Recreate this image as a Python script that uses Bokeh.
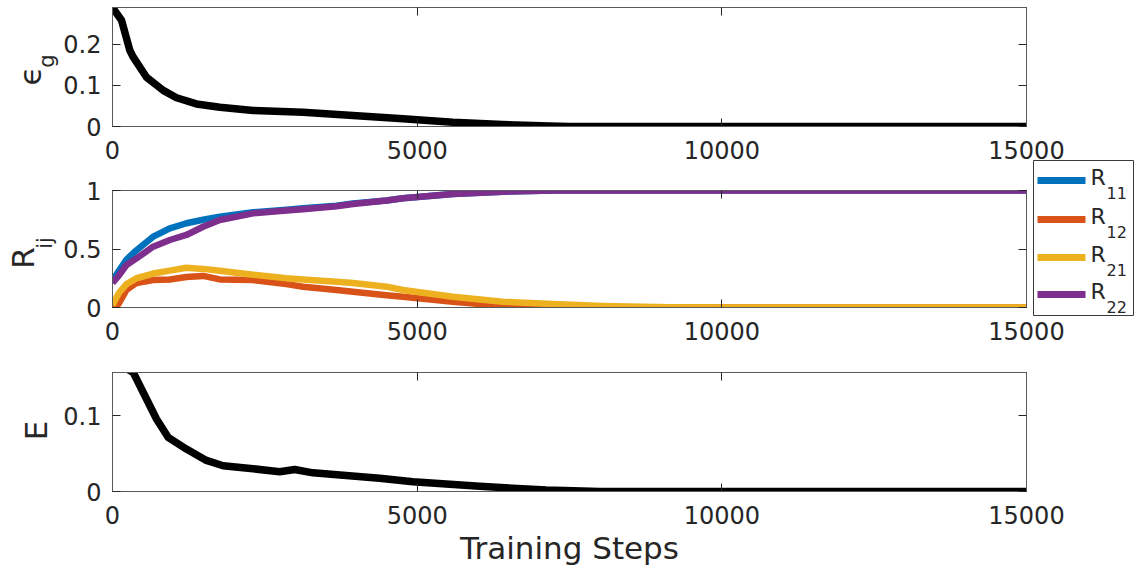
import math
from bokeh.plotting import figure
from bokeh.models import Range1d, LinearAxis, FixedTicker, NumeralTickFormatter
from bokeh.layouts import column, row
from bokeh.embed import file_html
from bokeh.resources import INLINE

# ---------------- data ----------------
eg_steps = [0, 148, 285, 341, 558, 832, 1050, 1378, 1762, 2307, 3126, 3946, 4766,
            5586, 6405, 7170, 7500, 10000, 15000]
eg_vals = [0.29, 0.259, 0.185, 0.169, 0.12, 0.088, 0.07, 0.055, 0.047, 0.039, 0.035,
           0.027, 0.019, 0.0105, 0.005, 0.001, 0.0, 0.0, 0.0]

r_steps = [0, 100, 230, 394, 667, 941, 1213, 1487, 1760, 2307, 2853, 3126, 3676,
           3946, 4497, 4766, 5586, 6405, 7225, 8046, 9140, 10000, 15000]
r11_vals = [0.23, 0.31, 0.41, 0.49, 0.605, 0.677, 0.72, 0.75, 0.776, 0.814, 0.835,
            0.848, 0.87, 0.89, 0.915, 0.933, 0.97, 0.99, 1.0, 1.0, 1.0, 1.0, 1.0]
r12_vals = [0.0, 0.03, 0.15, 0.21, 0.235, 0.24, 0.26, 0.27, 0.24, 0.235, 0.2,
            0.178, 0.15, 0.135, 0.105, 0.092, 0.05, 0.013, 0.005, 0.0, 0.0, 0.0, 0.0]
r21_vals = [0.02, 0.12, 0.2, 0.25, 0.29, 0.315, 0.34, 0.33, 0.315, 0.28, 0.25,
            0.24, 0.22, 0.21, 0.178, 0.15, 0.092, 0.05, 0.03, 0.013, 0.002, 0.0, 0.0]
r22_vals = [0.21, 0.27, 0.363, 0.42, 0.52, 0.577, 0.62, 0.69, 0.748, 0.805, 0.83,
            0.84, 0.865, 0.885, 0.915, 0.933, 0.97, 0.99, 1.0, 1.0, 1.0, 1.0, 1.0]

e_steps = [0, 256, 341, 558, 722, 913, 1213, 1541, 1815, 2307, 2744, 2990, 3290,
           3836, 4383, 4930, 5476, 6023, 6569, 7116, 8000, 15000]
e_vals = [0.2, 0.161, 0.157, 0.122, 0.0957, 0.0715, 0.056, 0.041, 0.034, 0.030,
          0.026, 0.029, 0.0246, 0.021, 0.0175, 0.013, 0.010, 0.007, 0.0043, 0.002,
          0.0, 0.0]

r_series = [r11_vals, r12_vals, r21_vals, r22_vals]
r_names = ["11", "12", "21", "22"]
r_colors = ["#0072BD", "#D95319", "#EDB120", "#7E2F8E"]

x_ticks = [0, 5000, 10000, 15000]
eg_ticks = [0, 0.1, 0.2]
r_ticks = [0, 0.5, 1]
e_ticks = [0, 0.1]

FONT = "DejaVu Sans"
TXT = "#262626"
BOX = "#5a5a5a"
FW = 914
LBL_W = 60


def make_fig(ymax, yticks, fh, bt, bb):
    p = figure(frame_width=FW, frame_height=fh, min_border_left=110 - LBL_W,
               min_border_right=116, min_border_top=bt, min_border_bottom=bb,
               x_range=Range1d(0, 15000), y_range=Range1d(0, ymax),
               output_backend="svg", toolbar_location=None)
    p.grid.visible = False
    p.outline_line_color = BOX
    p.background_fill_color = "white"
    p.border_fill_color = "white"
    bx, ly = p.below[0], p.left[0]
    for ax in (bx, ly):
        ax.axis_line_color = BOX
        ax.major_tick_line_color = TXT
        ax.major_tick_in = 8
        ax.major_tick_out = 0
        ax.minor_tick_line_color = None
        ax.major_label_text_font = FONT
        ax.major_label_text_font_size = "24px"
        ax.major_label_text_color = TXT
    bx.ticker = FixedTicker(ticks=x_ticks)
    bx.major_label_standoff = 14
    ly.ticker = FixedTicker(ticks=yticks)
    ly.formatter = NumeralTickFormatter(format="0.[0]")
    ly.major_label_standoff = 11
    # mirrored ticks (box) on right and top
    ra = LinearAxis(ticker=FixedTicker(ticks=yticks),
                    major_label_overrides={t: "" for t in yticks})
    ta = LinearAxis(ticker=FixedTicker(ticks=x_ticks),
                    major_label_overrides={t: "" for t in x_ticks})
    for ax in (ra, ta):
        ax.axis_line_color = BOX
        ax.major_tick_line_color = TXT
        ax.major_tick_in = 8
        ax.major_tick_out = 0
        ax.minor_tick_line_color = None
        ax.major_label_text_font_size = "0px"
        ax.major_label_standoff = 0
    p.add_layout(ra, "right")
    p.add_layout(ta, "above")
    return p


def label_fig(h, parts):
    """Narrow figure holding a rotated y-label; parts = (text, x, y_from_top, size)."""
    q = figure(width=LBL_W, height=h, x_range=Range1d(0, LBL_W), y_range=Range1d(0, h),
               min_border=0, output_backend="svg", toolbar_location=None)
    q.axis.visible = False
    q.grid.visible = False
    q.outline_line_color = None
    for txt, x, yt, size in parts:
        q.text(x=[x], y=[h - yt], text=[txt], angle=math.pi / 2, text_align="center",
               text_baseline="middle", text_font={"value": FONT},
               text_font_size={"value": size}, text_color=TXT)
    return q


H1, H2, H3 = 7 + 119 + 45, 19 + 117 + 50, 15 + 119 + 80

# ---------------- panel 1: epsilon_g ----------------
p1 = make_fig(0.29, eg_ticks, 119, 7, 45)
p1.line(eg_steps, eg_vals, line_color="black", line_width=7.5, line_join="round")
l1 = label_fig(H1, [("ϵ", 29.5, 75.5, "31px"), ("g", 46.5, 60.5, "21px")])

# ---------------- panel 2: R_ij ----------------
p2 = make_fig(1.0, r_ticks, 117, 19, 50)
for vals, col in zip(r_series, r_colors):
    p2.line(r_steps, vals, line_color=col, line_width=6.5, line_join="round")
off2 = H1
l2 = label_fig(H2, [("R", 22.5, 257.5 - off2, "31px"), ("ij", 44.0, 242.5 - off2, "21px")])

# ---------------- panel 3: E ----------------
p3 = make_fig(0.157, e_ticks, 119, 15, 80)
p3.line(e_steps, e_vals, line_color="black", line_width=7.5, line_join="round")
off3 = H1 + H2
l3 = label_fig(H3, [("E", 35.0, 430.0 - off3, "31px")])
bx3 = p3.below[0]
bx3.axis_label = "Training Steps"
bx3.axis_label_text_font = FONT
bx3.axis_label_text_font_size = "31px"
bx3.axis_label_text_font_style = "normal"
bx3.axis_label_text_color = TXT
bx3.axis_label_standoff = 3

# ---------------- legend (own small figure, overlapping p2's right margin) ----------------
LW, LH = 101, 156
leg = figure(width=LW, height=LH, x_range=Range1d(0, LW), y_range=Range1d(0, LH),
             min_border=0, output_backend="svg", toolbar_location=None,
             margin=(160, 0, 0, -109))
leg.axis.visible = False
leg.grid.visible = False
leg.outline_line_color = "#3a3a3a"
entry_top = [20, 59, 97, 134]          # entry centre, pixels from legend top
leg.segment(x0=[4] * 4, x1=[52] * 4, y0=[LH - t for t in entry_top],
            y1=[LH - t for t in entry_top], line_color=r_colors, line_width=7)
leg.text(x=[57] * 4, y=[LH - t + 3 for t in entry_top], text=["R"] * 4,
         text_align="left", text_baseline="middle", text_font={"value": FONT},
         text_font_size={"value": "22px"}, text_color=TXT)
leg.text(x=[73] * 4, y=[LH - t - 12 for t in entry_top], text=r_names,
         text_align="left", text_baseline="middle", text_font={"value": FONT},
         text_font_size={"value": "16px"}, text_color=TXT)

layout = row(column(l1, l2, l3, spacing=0), column(p1, p2, p3, spacing=0), leg,
             spacing=0)
open("out.html", "w").write(file_html(layout, INLINE))
